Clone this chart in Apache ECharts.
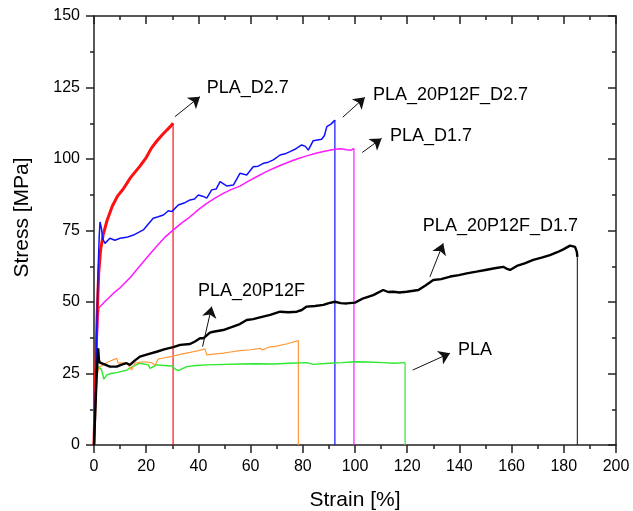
<!DOCTYPE html>
<html>
<head>
<meta charset="utf-8">
<script src="https://cdn.jsdelivr.net/npm/echarts@6/dist/echarts.min.js"></script>
<style>
  html, body { margin: 0; padding: 0; background: #fff; }
  #main { width: 633px; height: 511px; }
</style>
</head>
<body>
<div id="main"></div>
<script>
// strain [%], stress [MPa]
const pla = [[0,0],[0.6,15],[1.2,25],[1.6,27.4],[2.9,26.2],[3.8,23],[4.9,24.5],[6.5,25],[8.7,25.3],[12.5,26.2],[15,27.5],[17.6,28.6],[20.8,28],[21.5,26.8],[24,28],[27,27.8],[29.8,27.6],[31.2,26.5],[32.3,26],[35.5,27.4],[39,27.8],[43.2,28],[50,28.2],[55.9,28.3],[62,28.4],[68.7,28.3],[75,28.6],[81.5,28.8],[84,28.2],[90,28.6],[95,28.8],[100,29.1],[105,29],[110.8,28.8],[115,28.6],[119.2,28.8]]
const pla20p12f = [[0,0],[0.6,14],[1.2,24],[1.6,26.2],[2.3,27.4],[5.5,29.1],[8.7,30.3],[9.3,28.6],[12.5,28.8],[14.4,26.2],[15.7,28.6],[18.9,29.1],[22.1,28.8],[23.4,28],[24.6,30],[27,30.5],[30.4,31.1],[33.5,31.8],[36.8,32.4],[40,33],[42.5,33.6],[43.2,31.5],[46,31.8],[49.5,32.1],[53,32.6],[55.9,33],[60,33.3],[63.6,33.8],[64.5,33.2],[67,34.2],[70,34.6],[74,35.4],[78.3,36.5]]
const plaD17 = [[0,0],[0.5,15],[1,32],[1.5,44],[1.9,48],[2.5,48.6],[4,50],[7.4,53],[10,55],[13.8,58.5],[17,62],[20.2,65.5],[24,69.5],[27,72.5],[30.4,75.2],[33.5,77.6],[36.8,79.8],[40,82.3],[43.2,84.5],[46.5,86.4],[49.5,88],[52.5,89.3],[55.9,90.5],[59,92.2],[62.3,93.8],[65.5,95.3],[68.7,96.7],[72,98],[75.1,99.1],[78.3,100.2],[81.5,101.1],[84.7,101.9],[87.9,102.6],[92.3,103.4],[94.5,103.6],[96.8,103.2],[98.5,103.1],[99.6,103.7]]
const plaD27 = [[0,0],[0.5,20],[0.9,35],[1.3,48],[1.8,60],[2.5,68],[3.5,73.5],[5,78.5],[7,83.5],[9,87],[11.2,89.5],[14,93.5],[17.6,97.5],[20,100.5],[22,103.8],[24,106.2],[26,108.3],[28,110.2],[29.3,111.4],[30.3,112.5]]
const pla20p12fD27 = [[0,0],[0.5,15],[1,38],[1.6,62],[2,73],[2.3,78],[2.8,76],[3.4,72],[4.2,70.5],[6.1,72.3],[8,71.6],[10,72.3],[12.5,72.6],[15.1,73.4],[18.9,75.2],[20.8,77.3],[22.7,79.3],[24.6,79.8],[26.6,80.4],[28.5,81.9],[29.8,81.6],[32.3,83.9],[34.5,84.6],[36.8,85.7],[38.5,86],[40,87.4],[41.6,87],[43.2,86.3],[45.1,89.2],[46.8,89.5],[48.3,92.1],[50.8,90.6],[53.4,90.9],[55.9,95],[58.5,94.4],[61,97.3],[62.9,97.5],[64.9,98.5],[66.8,98.9],[68.7,99.7],[71.3,101.4],[73.2,101.8],[75.1,102.6],[77.4,103.6],[79.6,104.9],[81,104.4],[82.1,103.1],[84,106.4],[87.2,106.9],[88.3,108.2],[89.2,111.3],[90.8,112.2],[92.3,113.6]]
const pla20p12fD17 = [[0,0],[0.5,12],[1,24],[1.4,30],[1.6,33.8],[1.9,29.6],[2.3,28.8],[4,28.2],[6.1,27.4],[8.7,27.4],[10.6,28.1],[12.5,28.6],[13.8,28],[15.7,29.6],[17.6,30.9],[20.8,31.8],[24,32.6],[27.2,33.5],[30.4,34.2],[33,35],[36.8,35.3],[38.7,36.2],[40.6,37.3],[41.9,37.3],[44.4,39.3],[45.7,39.6],[49.5,40.2],[52.7,41.2],[55.9,42.3],[58.5,43.7],[61,44],[63.6,44.6],[67.5,45.5],[71.3,46.6],[74.5,46.4],[77.7,46.6],[79.6,47.2],[81.5,48.4],[84.7,48.6],[87.9,49],[90,49.6],[92.3,50.1],[94.5,49.6],[96.8,49.5],[100,49.8],[103.2,51.3],[107,52.4],[110.8,54.2],[112.7,53.5],[114.7,53.6],[117,53.3],[119.8,53.6],[124.3,54.2],[127,55.8],[130,57.7],[133,58],[136.5,58.9],[139.8,59.4],[142.8,60],[146.5,60.6],[150,61.2],[153.5,61.8],[156.8,62.3],[158,61.7],[159.4,61.2],[162,62.6],[165,63.5],[168.3,64.7],[171.5,65.5],[174.7,66.4],[177.5,67.4],[180,68.5],[182.4,69.7],[184.3,69.3],[185,67.5],[185.2,65.8]]

// annotations (data coords)
const annotTexts = ['PLA_D2.7', 'PLA_20P12F_D2.7', 'PLA_D1.7', 'PLA_20P12F_D1.7', 'PLA_20P12F', 'PLA']
const annotAt = [[43.2,124.8],[106.9,122.2],[113.4,108.2],[126,76.7],[39.8,53.7],[139.5,33.2]]
const arrowFrom = [[31,114.8],[95.3,114.6],[102.8,102.3],[128.7,58.8],[41.6,34.4],[122.1,26.2]]
const arrowTo = [[40.6,121.8],[103.8,121.6],[110.2,107.2],[133.8,70.5],[45.1,48.4],[136.4,32.1]]

const FONT = '"Liberation Sans", Arial, sans-serif'

const curves = [
    { name: 'PLA', data: pla, color: '#2ee82e', width: 1.4 },
    { name: 'PLA_20P12F', data: pla20p12f, color: '#ff9a3a', width: 1.2 },
    { name: 'PLA_D1.7', data: plaD17, color: '#ff1aff', width: 1.5 },
    { name: 'PLA_D2.7', data: plaD27, color: '#ff1010', width: 3 },
    { name: 'PLA_20P12F_D2.7', data: pla20p12fD27, color: '#1010ff', width: 1.5 },
    { name: 'PLA_20P12F_D1.7', data: pla20p12fD17, color: '#000000', width: 2.4 },
]

const series = []
curves.forEach(c => {
    series.push({
        name: c.name, type: 'line', data: c.data, showSymbol: false,
        lineStyle: { color: c.color, width: c.width }, z: 3
    })
    // fracture: vertical drop from the last point
    const last = c.data[c.data.length - 1]
    series.push({
        type: 'line', data: [last, [last[0], 0]], showSymbol: false,
        lineStyle: { color: c.color === '#000000' ? '#333' : c.color, width: 1.2 }, z: 2
    })
})

series.push({
    type: 'lines', coordinateSystem: 'cartesian2d',
    symbol: ['none', 'arrow'], symbolSize: 11,
    lineStyle: { color: '#111', width: 1, opacity: 1 },
    data: arrowFrom.map((p, i) => ({ coords: [p, arrowTo[i]] })),
    z: 4
})

series.push({
    type: 'scatter', symbolSize: 0,
    itemStyle: { opacity: 1 },
    data: annotAt.map((p, i) => ({ value: p, label: { formatter: annotTexts[i] } })),
    label: {
        show: true, position: 'right', distance: 0, opacity: 1,
        fontFamily: FONT, fontSize: 18, color: '#000'
    },
    z: 5
})

const axisCommon = {
    axisLine: { show: true, onZero: false, lineStyle: { color: '#222', width: 1.5 } },
    splitLine: { show: false },
    minorTick: { show: true, splitNumber: 2, length: 4, lineStyle: { color: '#222', width: 1.5 } },
    axisTick: { show: true, length: 8, lineStyle: { color: '#222', width: 1.5 } },
}

const chart = echarts.init(document.getElementById('main'))
chart.setOption({
    animation: false,
    backgroundColor: '#fff',
    grid: { left: 94, right: 17, top: 16, bottom: 66, outerBoundsMode: 'none' },
    xAxis: [
        Object.assign({}, axisCommon, {
            type: 'value', min: 0, max: 200, interval: 20, position: 'bottom',
            name: 'Strain [%]', nameLocation: 'middle', nameGap: 45,
            nameTextStyle: { fontFamily: FONT, fontSize: 21, color: '#000' },
            axisLabel: { margin: 14, fontFamily: FONT, fontSize: 16, color: '#000' },
        }),
        Object.assign({}, axisCommon, {
            type: 'value', min: 0, max: 200, interval: 20, position: 'top',
            axisLabel: { show: false },
            axisTick: Object.assign({}, axisCommon.axisTick, { inside: true }),
        }),
    ],
    yAxis: [
        Object.assign({}, axisCommon, {
            type: 'value', min: 0, max: 150, interval: 25, position: 'left',
            name: 'Stress [MPa]', nameLocation: 'middle', nameGap: 61,
            nameTextStyle: { fontFamily: FONT, fontSize: 21, color: '#000', padding: [0, 0, 0, 26] },
            axisLabel: { margin: 14, fontFamily: FONT, fontSize: 16, color: '#000' },
        }),
        Object.assign({}, axisCommon, {
            type: 'value', min: 0, max: 150, interval: 25, position: 'right',
            axisLabel: { show: false },
            axisTick: Object.assign({}, axisCommon.axisTick, { inside: true }),
        }),
    ],
    series: series
})
</script>
</body>
</html>
